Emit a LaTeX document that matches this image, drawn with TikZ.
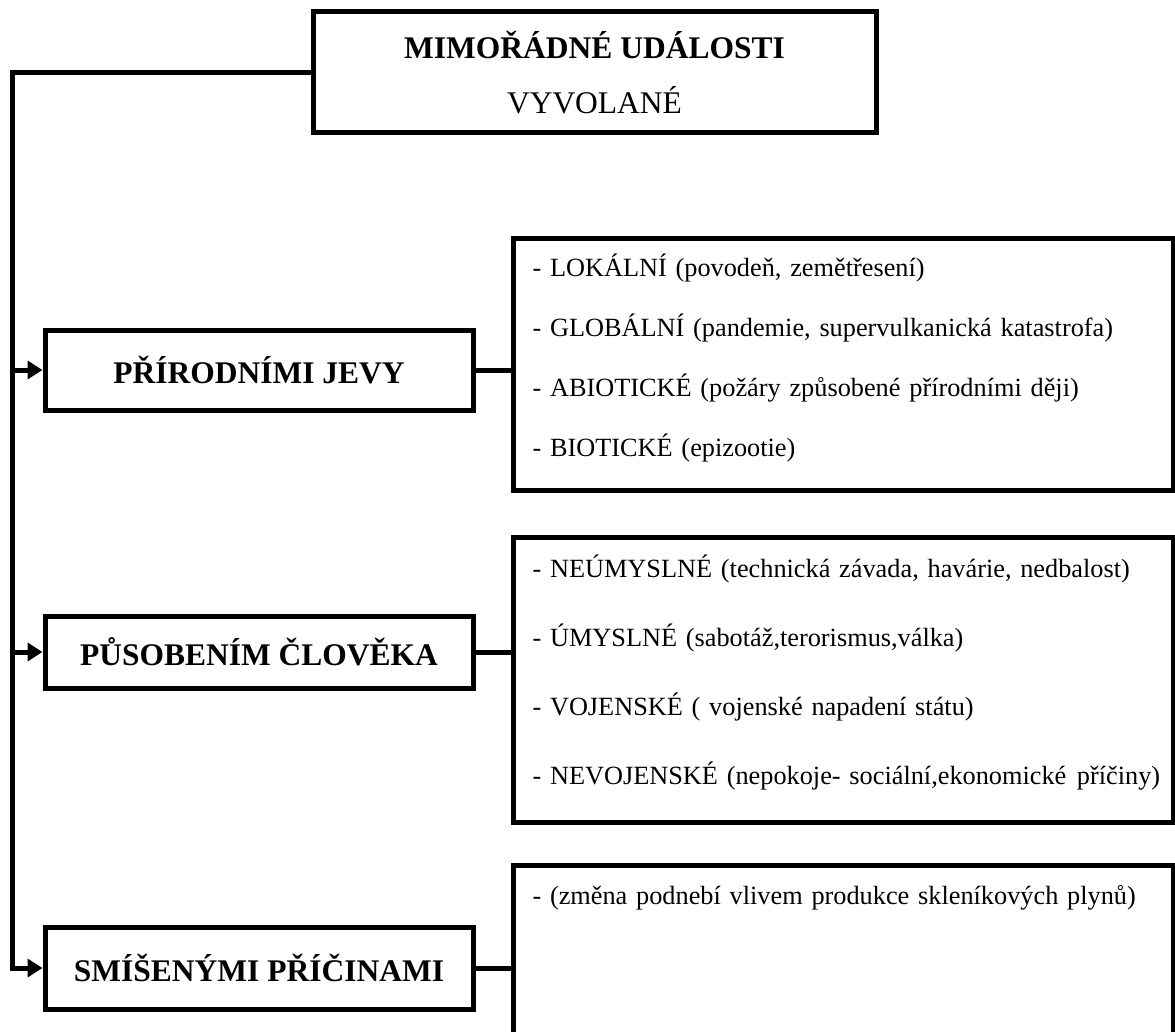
\documentclass[tikz,border=0pt]{standalone}
\usepackage{fontspec}
\setmainfont{Liberation Serif}
\usetikzlibrary{arrows.meta,positioning}

\begin{document}
\begin{tikzpicture}[x=1pt,y=-1pt,line width=5pt,>={Triangle[length=15pt,width=18pt]},
head/.style={draw,align=center,minimum width=563pt,minimum height=121pt,inner sep=0pt,font=\fontsize{31.5pt}{55pt}\selectfont},
cause/.style={draw,align=center,minimum width=428pt,inner sep=0pt,font=\fontsize{31.5pt}{38pt}\selectfont\bfseries},
list/.style={draw,anchor=north west,align=left,text width=622pt,inner xsep=19pt,inner ysep=0pt,font=\fontsize{26.3pt}{60pt}\selectfont}]
\path[use as bounding box] (0,0) rectangle (1175,1032);
\node[head] (title) at (594.5,72.5) {\textbf{MIMOŘÁDNÉ UDÁLOSTI}\\VYVOLANÉ};
\node[cause,minimum height=80pt] (nature) at (259,370) {PŘÍRODNÍMI JEVY};
\node[cause,minimum height=72pt] (human) at (259,652) {PŮSOBENÍM ČLOVĚKA};
\node[cause,minimum height=82pt] (mixed) at (259,968) {SMÍŠENÝMI PŘÍČINAMI};
\node[list,text height=38pt,text depth=214pt] (natlist) at (511,236) {- LOKÁLNÍ (povodeň, zemětřesení)\\- GLOBÁLNÍ (pandemie, supervulkanická katastrofa)\\- ABIOTICKÉ (požáry způsobené přírodními ději)\\- BIOTICKÉ (epizootie)};
\node[list,font=\fontsize{26.3pt}{69pt}\selectfont,text height=40pt,text depth=245pt] (humlist) at (511,535) {- NEÚMYSLNÉ (technická závada, havárie, nedbalost)\\- ÚMYSLNÉ (sabotáž,terorismus,válka)\\- VOJENSKÉ ( vojenské napadení státu)\\\mbox{- NEVOJENSKÉ (nepokoje- sociální,ekonomické\hspace{0.4em}příčiny)}};
\node[list,text height=39pt,text depth=160pt] (mixlist) at (511,863) {- (změna podnebí vlivem produkce skleníkových plynů)};
\coordinate (trunk) at (12,72.5);
\draw[->] (title.west) -- (trunk) -- (trunk |- mixed.west) -- (mixed.west);
\draw[->] (trunk |- nature.west) -- (nature.west);\draw[->] (trunk |- human.west) -- (human.west);
\draw (nature.east) -- (nature.east -| natlist.west);\draw (human.east) -- (human.east -| humlist.west);
\draw (mixed.east) -- (mixed.east -| mixlist.west);
\end{tikzpicture}
\end{document}
